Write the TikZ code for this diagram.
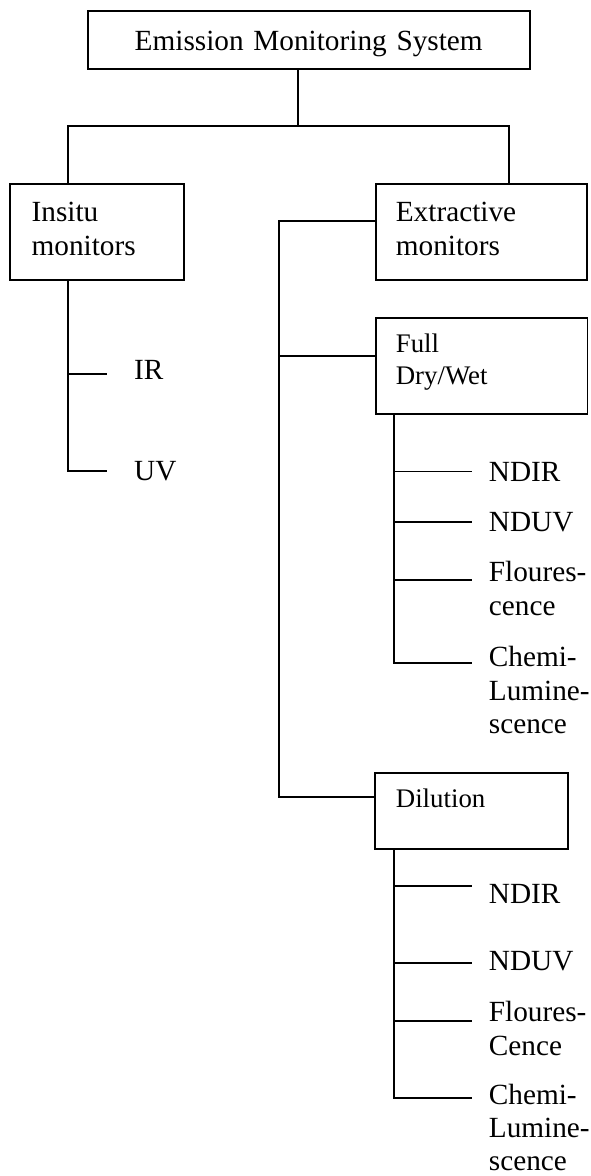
\documentclass[tikz,border=0pt]{standalone}
\usepackage{fontspec}
\setmainfont{Liberation Serif}

\begin{document}
\begin{tikzpicture}[x=0.41pt,y=-0.41pt,line width=0.75pt,
  box/.style={draw,anchor=north west,inner ysep=0pt,align=left,font=\fontsize{12}{13.8}\selectfont},
  smallbox/.style={box,font=\fontsize{11}{12.8}\selectfont},
  leaf/.style={anchor=base west,inner sep=0pt,text width=50pt,align=left,font=\fontsize{12}{13.7}\selectfont}]
\useasboundingbox (0,0) rectangle (590,1176);

% boxes
\node[box,align=center,inner xsep=0pt,text width=181.3pt,text height=16.1pt,text depth=7.8pt] (ems) at (86.7,10) {Emission Monitoring System};
\node[box,inner xsep=8.8pt,text width=53.7pt,text height=15.5pt,text depth=23.9pt] (ins) at (9.3,183) {Insitu\\monitors};
\node[box,inner xsep=8.3pt,text width=69.9pt,text height=15.5pt,text depth=23.9pt] (ext) at (374.7,183) {Extractive\\monitors};
\node[smallbox,inner xsep=8.3pt,text width=70.3pt,text height=14.1pt,text depth=25.2pt] (fd) at (374.7,317.5) {Full\\Dry/Wet};
\node[smallbox,inner xsep=8.6pt,text width=61.9pt,text height=14.35pt,text depth=17.1pt] (dil) at (374,771.7) {Dilution};

% top level
\coordinate (j0) at (298,125.7);
\coordinate (busL) at (67.7,125.7);
\coordinate (busR) at (509.3,125.7);
\draw (ems.south -| j0) -- (j0);
\draw (ins.north -| busL) -- (busL) -- (busR) -- (ext.north -| busR);

% insitu
\coordinate (irE) at (106.7,374.3);
\coordinate (uvE) at (106.7,471);
\draw (ins.south -| busL) |- (uvE);
\draw (irE -| busL) -- (irE);
\node[leaf] (ir) at (133.3,380) {IR};
\node[leaf] (uv) at (133.3,480.7) {UV};

% extractive
\coordinate (extT) at (278.7,221);
\coordinate (fdJ) at (278.7,355.7);
\coordinate (dilJ) at (278.7,797.3);
\draw (ext.west |- extT) -- (extT) -- (dilJ) -- (dil.west |- dilJ);
\draw (fdJ) -- (fd.west |- fdJ);

% full dry/wet
\coordinate (fdT) at (394,0);
\coordinate (f1) at (471.5,471.5);
\coordinate (f2) at (471.5,522);
\coordinate (f3) at (471.5,580);
\coordinate (f4) at (471.5,662.7);
\draw (fd.south -| fdT) |- (f4);
\foreach \c in {f1,f2,f3} \draw (\c -| fdT) -- (\c);
\node[leaf] (fndir) at (488,481) {NDIR};
\node[leaf] (fnduv) at (488,531.5) {NDUV};
\node[leaf] (fflo) at (488,581.7) {Floures-\\cence};
\node[leaf] (fchem) at (488,666.7) {Chemi-\\Lumine-\\scence};

% dilution
\coordinate (dilT) at (394,0);
\coordinate (d1) at (471.5,886);
\coordinate (d2) at (471.5,963.3);
\coordinate (d3) at (471.5,1021);
\coordinate (d4) at (471.5,1098.3);
\draw (dil.south -| dilT) |- (d4);
\foreach \c in {d1,d2,d3} \draw (\c -| dilT) -- (\c);
\node[leaf] (dndir) at (488,903) {NDIR};
\node[leaf] (dnduv) at (488,970.7) {NDUV};
\node[leaf] (dflo) at (488,1021.7) {Floures-\\Cence};
\node[leaf] (dchem) at (488,1104) {Chemi-\\Lumine-\\scence};
\end{tikzpicture}
\end{document}
